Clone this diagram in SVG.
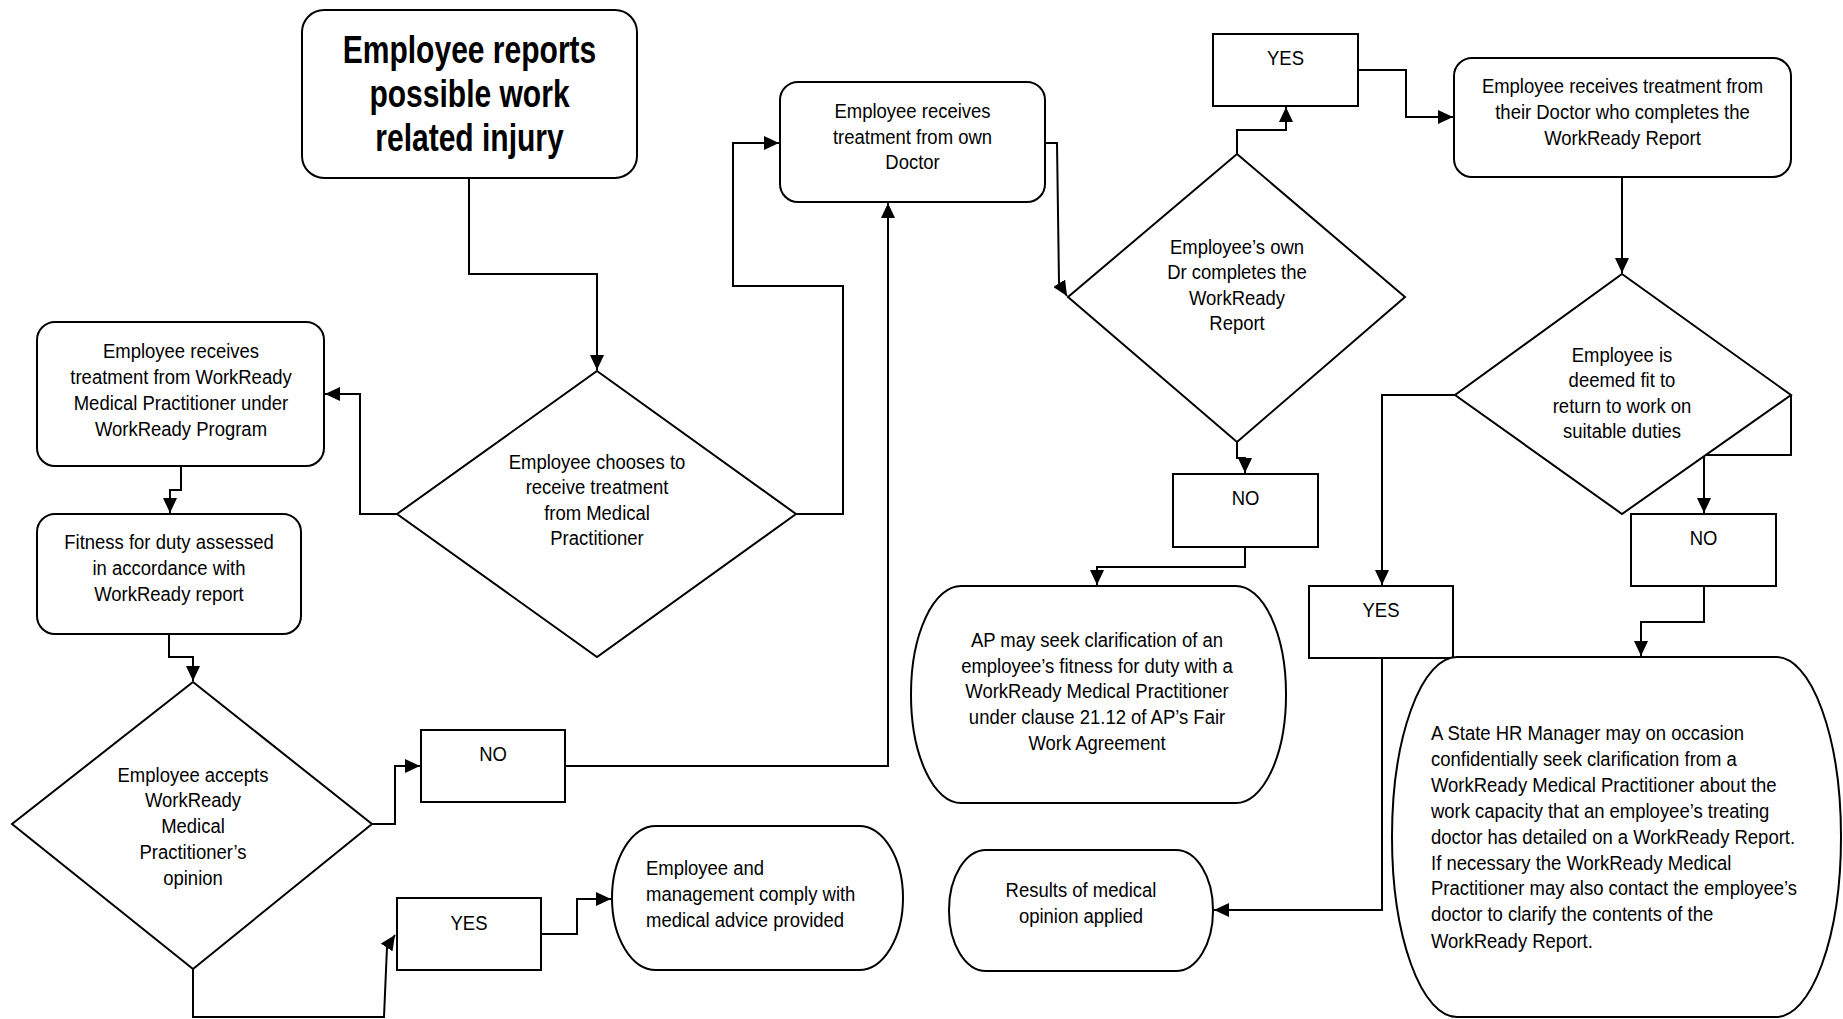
<svg xmlns="http://www.w3.org/2000/svg" width="1843" height="1019" viewBox="0 0 1843 1019">
<style>
.s{fill:#fff;stroke:#000;stroke-width:2}
.ln{fill:none;stroke:#000;stroke-width:2;marker-end:url(#ah)}
.t{font-family:"Liberation Sans",Arial,sans-serif;font-size:21px;fill:#000}
.m{text-anchor:middle}
.h{font-size:38px;font-weight:bold}
</style>
<defs>
<marker id="ah" markerUnits="userSpaceOnUse" markerWidth="15" markerHeight="14" refX="15" refY="7" orient="auto">
<path d="M0,0 L15,7 L0,14 z" fill="#000"/>
</marker>
</defs>
<rect width="1843" height="1019" fill="#fff"/>

<g id="connectors">
<path class="ln" d="M469,178 V274 H597 V370"/>
<path class="ln" d="M397,514 H360 V394 H325"/>
<path class="ln" d="M796,514 H843 V286 H733 V143 H779"/>
<path class="ln" d="M181,466 V490 H170 V513"/>
<path class="ln" d="M169,634 V657 H193 V681"/>
<path class="ln" d="M372,824 H395 V766 H420"/>
<path class="ln" d="M565,766 H888 V203"/>
<path class="ln" d="M193,969 V1017 H384 L387,947 L395,935"/>
<path class="ln" d="M541,934 H577 V899 H611"/>
<path class="ln" d="M1045,143 H1057 L1059,283 L1067,296"/>
<path class="ln" d="M1237,154 V130 H1286 V107"/>
<path class="ln" d="M1358,70 H1406 V117 H1453"/>
<path class="ln" d="M1237,442 V458 H1245 V473"/>
<path class="ln" d="M1245,547 V567 H1097 V585"/>
<path class="ln" d="M1622,177 V273"/>
<path class="ln" d="M1455,395 H1382 V585"/>
<path class="ln" d="M1791,395 V455 H1704 V513"/>
<path class="ln" d="M1704,586 V622 H1641 V656"/>
<path class="ln" d="M1382,658 V910 H1214"/>
</g>

<g id="n-report">
<rect class="s" x="302" y="10" width="335" height="168" rx="22"/>
<g transform="translate(469.5 0) scale(0.79 1)"><text class="t m h"><tspan x="0" y="63">Employee reports</tspan><tspan x="0" y="107">possible work</tspan><tspan x="0" y="151">related injury</tspan></text></g>
</g>

<g id="n-workready-treat">
<rect class="s" x="37" y="322" width="287" height="144" rx="18"/>
<g transform="translate(181 0) scale(0.88 1)"><text class="t m"><tspan x="0" y="358">Employee receives</tspan><tspan x="0" y="384">treatment from WorkReady</tspan><tspan x="0" y="410">Medical Practitioner under</tspan><tspan x="0" y="436">WorkReady Program</tspan></text></g>
</g>

<g id="n-fitness">
<rect class="s" x="37" y="514" width="264" height="120" rx="18"/>
<g transform="translate(169 0) scale(0.88 1)"><text class="t m"><tspan x="0" y="549">Fitness for duty assessed</tspan><tspan x="0" y="575">in accordance with</tspan><tspan x="0" y="601">WorkReady report</tspan></text></g>
</g>

<g id="n-chooses">
<polygon class="s" points="597,371 796,514 597,657 397,514"/>
<g transform="translate(597 0) scale(0.88 1)"><text class="t m"><tspan x="0" y="469">Employee chooses to</tspan><tspan x="0" y="494.5">receive treatment</tspan><tspan x="0" y="520">from Medical</tspan><tspan x="0" y="545">Practitioner</tspan></text></g>
</g>

<g id="n-accepts">
<polygon class="s" points="193,682 372,824 193,969 12,824"/>
<g transform="translate(193 0) scale(0.88 1)"><text class="t m"><tspan x="0" y="782">Employee accepts</tspan><tspan x="0" y="807.5">WorkReady</tspan><tspan x="0" y="833">Medical</tspan><tspan x="0" y="859">Practitioner’s</tspan><tspan x="0" y="885">opinion</tspan></text></g>
</g>

<g id="n-no-left">
<rect class="s" x="421" y="730" width="144" height="72"/>
<g transform="translate(493 0) scale(0.88 1)"><text class="t m"><tspan x="0" y="761">NO</tspan></text></g>
</g>

<g id="n-yes-bottom">
<rect class="s" x="397" y="898" width="144" height="72"/>
<g transform="translate(469 0) scale(0.88 1)"><text class="t m"><tspan x="0" y="930">YES</tspan></text></g>
</g>

<g id="n-comply">
<rect class="s" x="612" y="826" width="291" height="144" rx="44" ry="72"/>
<g transform="translate(646 0) scale(0.88 1)"><text class="t"><tspan x="0" y="875">Employee and</tspan><tspan x="0" y="901">management comply with</tspan><tspan x="0" y="927">medical advice provided</tspan></text></g>
</g>

<g id="n-own-doctor">
<rect class="s" x="780" y="82" width="265" height="120" rx="18"/>
<g transform="translate(912.5 0) scale(0.88 1)"><text class="t m"><tspan x="0" y="118">Employee receives</tspan><tspan x="0" y="144">treatment from own</tspan><tspan x="0" y="169">Doctor</tspan></text></g>
</g>

<g id="n-own-dr-completes">
<polygon class="s" points="1237,154 1405,297 1237,442 1068,297"/>
<g transform="translate(1237 0) scale(0.88 1)"><text class="t m"><tspan x="0" y="254">Employee’s own</tspan><tspan x="0" y="279">Dr completes the</tspan><tspan x="0" y="304.5">WorkReady</tspan><tspan x="0" y="330">Report</tspan></text></g>
</g>

<g id="n-yes-top">
<rect class="s" x="1213" y="34" width="145" height="72"/>
<g transform="translate(1285.5 0) scale(0.88 1)"><text class="t m"><tspan x="0" y="65">YES</tspan></text></g>
</g>

<g id="n-no-mid">
<rect class="s" x="1173" y="474" width="145" height="73"/>
<g transform="translate(1245.5 0) scale(0.88 1)"><text class="t m"><tspan x="0" y="505">NO</tspan></text></g>
</g>

<g id="n-ap-clarify">
<rect class="s" x="911" y="586" width="375" height="217" rx="50" ry="108"/>
<g transform="translate(1097 0) scale(0.88 1)"><text class="t m"><tspan x="0" y="647">AP may seek clarification of an</tspan><tspan x="0" y="673">employee’s fitness for duty with a</tspan><tspan x="0" y="698">WorkReady Medical Practitioner</tspan><tspan x="0" y="724">under clause 21.12 of AP’s Fair</tspan><tspan x="0" y="750">Work Agreement</tspan></text></g>
</g>

<g id="n-results">
<rect class="s" x="949" y="850" width="264" height="121" rx="37" ry="60"/>
<g transform="translate(1081 0) scale(0.88 1)"><text class="t m"><tspan x="0" y="897">Results of medical</tspan><tspan x="0" y="923">opinion applied</tspan></text></g>
</g>

<g id="n-their-doctor">
<rect class="s" x="1454" y="58" width="337" height="119" rx="18"/>
<g transform="translate(1622.5 0) scale(0.88 1)"><text class="t m"><tspan x="0" y="93">Employee receives treatment from</tspan><tspan x="0" y="119">their Doctor who completes the</tspan><tspan x="0" y="145">WorkReady Report</tspan></text></g>
</g>

<g id="n-deemed-fit">
<polygon class="s" points="1622,274 1791,395 1622,514 1455,395"/>
<g transform="translate(1622 0) scale(0.88 1)"><text class="t m"><tspan x="0" y="362">Employee is</tspan><tspan x="0" y="387">deemed fit to</tspan><tspan x="0" y="413">return to work on</tspan><tspan x="0" y="438">suitable duties</tspan></text></g>
</g>

<g id="n-no-right">
<rect class="s" x="1631" y="514" width="145" height="72"/>
<g transform="translate(1703.5 0) scale(0.88 1)"><text class="t m"><tspan x="0" y="545">NO</tspan></text></g>
</g>

<g id="n-yes-right">
<rect class="s" x="1309" y="586" width="144" height="72"/>
<g transform="translate(1381 0) scale(0.88 1)"><text class="t m"><tspan x="0" y="617">YES</tspan></text></g>
</g>

<g id="n-state-hr">
<rect class="s" x="1392" y="657" width="449" height="360" rx="65" ry="180"/>
<g transform="translate(1431 0) scale(0.88 1)"><text class="t"><tspan x="0" y="740">A State HR Manager may on occasion</tspan><tspan x="0" y="766">confidentially seek clarification from a</tspan><tspan x="0" y="792">WorkReady Medical Practitioner about the</tspan><tspan x="0" y="818">work capacity that an employee’s treating</tspan><tspan x="0" y="844">doctor has detailed on a WorkReady Report.</tspan><tspan x="0" y="870">If necessary the WorkReady Medical</tspan><tspan x="0" y="895">Practitioner may also contact the employee’s</tspan><tspan x="0" y="921">doctor to clarify the contents of the</tspan><tspan x="0" y="948">WorkReady Report.</tspan></text></g>
</g>
</svg>
